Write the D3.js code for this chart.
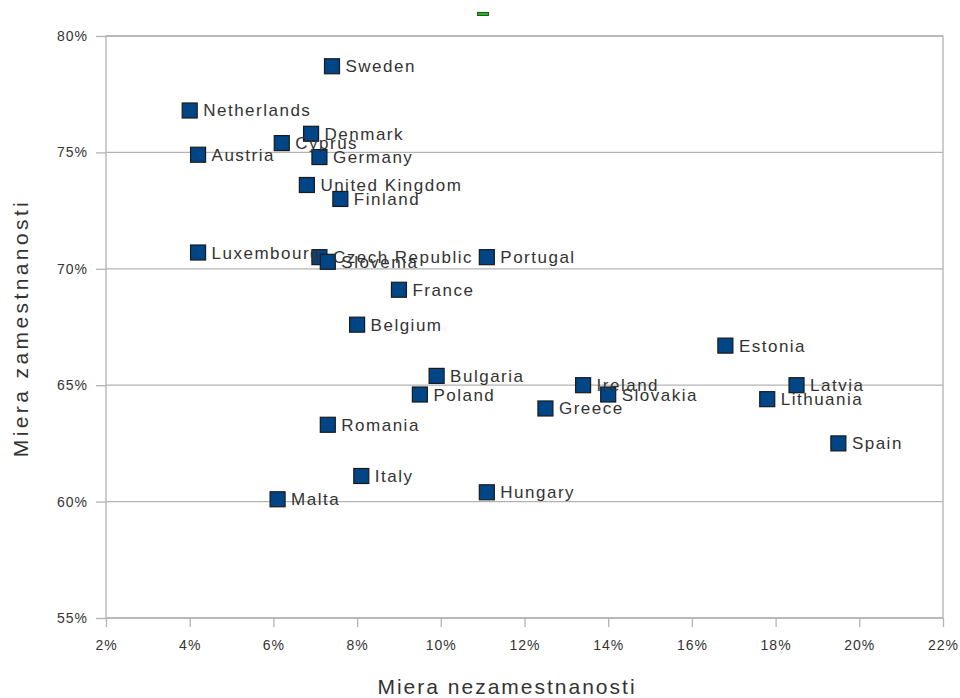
<!DOCTYPE html>
<html>
<head>
<meta charset="utf-8">
<script src="https://cdn.jsdelivr.net/npm/d3@7"></script>
<style>
  html, body { margin: 0; padding: 0; background: #fff; }
  svg { display: block; }
  text { font-family: "Liberation Sans", Arial, sans-serif; }
</style>
</head>
<body>
<svg id="chart" width="960" height="698"></svg>
<script>
// Unemployment rate (x, %) vs employment rate (y, %) by EU member state
const countries = ["Sweden", "Netherlands", "Denmark", "Cyprus", "Austria", "Germany",
  "United Kingdom", "Finland", "Luxembourg", "Czech Republic", "Slovenia", "Portugal",
  "France", "Belgium", "Bulgaria", "Poland", "Romania", "Italy", "Malta", "Hungary",
  "Greece", "Ireland", "Slovakia", "Estonia", "Latvia", "Lithuania", "Spain"];
const unemployment = [7.4, 4.0, 6.9, 6.2, 4.2, 7.1,
  6.8, 7.6, 4.2, 7.1, 7.3, 11.1,
  9.0, 8.0, 9.9, 9.5, 7.3, 8.1, 6.1, 11.1,
  12.5, 13.4, 14.0, 16.8, 18.5, 17.8, 19.5];
const employment = [78.7, 76.8, 75.8, 75.4, 74.9, 74.8,
  73.6, 73.0, 70.7, 70.5, 70.3, 70.5,
  69.1, 67.6, 65.4, 64.6, 63.3, 61.1, 60.1, 60.4,
  64.0, 65.0, 64.6, 66.7, 65.0, 64.4, 62.5];
const xTicks = [2, 4, 6, 8, 10, 12, 14, 16, 18, 20, 22];
const yTicks = [55, 60, 65, 70, 75, 80];
const xTitle = "Miera nezamestnanosti";
const yTitle = "Miera zamestnanosti";

const points = countries.map((c, i) => ({ name: c, x: unemployment[i], y: employment[i] }));

const svg = d3.select("#chart");
const m = { left: 106, right: 943, top: 36, bottom: 618 };

const x = d3.scaleLinear().domain([2, 22]).range([m.left, m.right]);
const y = d3.scaleLinear().domain([55, 80]).range([m.bottom, m.top]);

const grid = "#b3b3b3";

// horizontal gridlines
svg.append("g")
  .selectAll("line")
  .data(yTicks)
  .join("line")
  .attr("x1", m.left).attr("x2", m.right)
  .attr("y1", d => y(d)).attr("y2", d => y(d))
  .attr("stroke", grid).attr("stroke-width", 1.3);

// plot frame
svg.append("rect")
  .attr("x", m.left).attr("y", m.top)
  .attr("width", m.right - m.left).attr("height", m.bottom - m.top)
  .attr("fill", "none").attr("stroke", grid).attr("stroke-width", 1.3);

// x axis
const xAxis = svg.append("g")
  .attr("transform", `translate(0,${m.bottom})`)
  .call(d3.axisBottom(x).tickValues(xTicks).tickSize(9).tickPadding(13)
    .tickFormat(d => d + "%"));
xAxis.select(".domain").remove();
xAxis.selectAll("line").attr("stroke", grid).attr("stroke-width", 1.3);
xAxis.selectAll("text").attr("fill", "#333").attr("font-size", 14)
  .attr("letter-spacing", 1)
  .attr("font-family", "Liberation Sans, Arial, sans-serif");

// y axis
const yAxis = svg.append("g")
  .attr("transform", `translate(${m.left},0)`)
  .call(d3.axisLeft(y).tickValues(yTicks).tickSize(10).tickPadding(8)
    .tickFormat(d => d + "%"));
yAxis.select(".domain").remove();
yAxis.selectAll("line").attr("stroke", grid).attr("stroke-width", 1.3);
yAxis.selectAll("text").attr("fill", "#333").attr("font-size", 14)
  .attr("letter-spacing", 1)
  .attr("font-family", "Liberation Sans, Arial, sans-serif");

// axis titles
svg.append("text")
  .attr("x", 507).attr("y", 694)
  .attr("text-anchor", "middle")
  .attr("font-size", 21).attr("letter-spacing", 2).attr("fill", "#333")
  .text(xTitle);

svg.append("text")
  .attr("transform", `translate(28,328) rotate(-90)`)
  .attr("text-anchor", "middle")
  .attr("font-size", 21).attr("letter-spacing", 3.4).attr("fill", "#333")
  .text(yTitle);

// small legend swatch above the plot
svg.append("rect")
  .attr("x", 477.5).attr("y", 12.5).attr("width", 11).attr("height", 3)
  .attr("fill", "#00cc00").attr("stroke", "#444").attr("stroke-width", 1);

// markers
const s = 15;
const g = svg.append("g");
g.selectAll("rect.pt")
  .data(points)
  .join("rect")
  .attr("class", "pt")
  .attr("x", d => x(d.x) - s / 2)
  .attr("y", d => y(d.y) - s / 2)
  .attr("width", s).attr("height", s)
  .attr("fill", "#004586")
  .attr("stroke", "#1a1a1a").attr("stroke-width", 1.2);

// labels
g.selectAll("text.lbl")
  .data(points)
  .join("text")
  .attr("class", "lbl")
  .attr("x", d => x(d.x) + s / 2 + 6)
  .attr("y", d => y(d.y) + 6)
  .attr("font-size", 17)
  .attr("letter-spacing", 1.5)
  .attr("fill", "#333")
  .text(d => d.name);
</script>
</body>
</html>
